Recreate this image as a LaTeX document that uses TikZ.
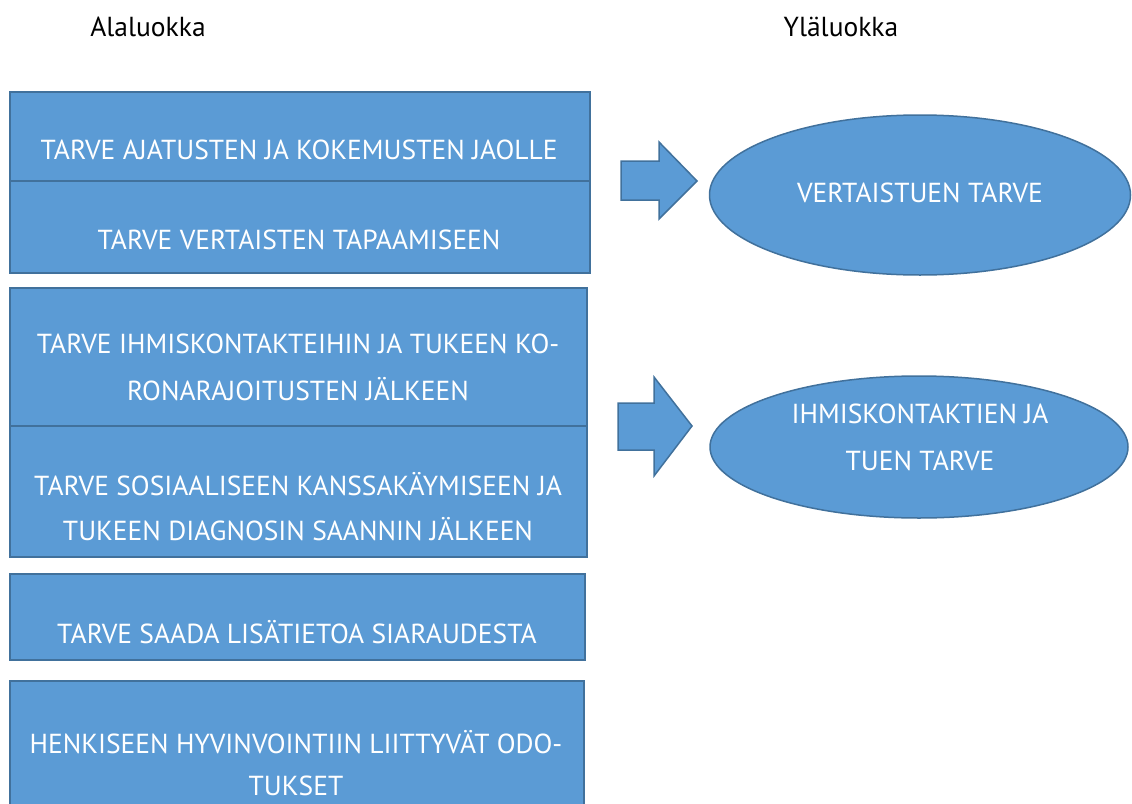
\documentclass[tikz,border=0pt]{standalone}
\usepackage{fontspec}
\setmainfont{PT Sans}
\usepackage{xcolor}
\usetikzlibrary{positioning}
\usetikzlibrary{shapes.geometric}
\definecolor{boxblue}{HTML}{5B9BD5}
\definecolor{edgeblue}{HTML}{41719C}

\begin{document}
\begin{tikzpicture}[x=1pt, y=-1pt, line width=1.5pt,
    cell/.style={rectangle, draw=edgeblue, fill=boxblue, anchor=north west},
    celltext/.style={text=white, font=\fontsize{27.5}{47}\selectfont, align=center},
    oval/.style={ellipse, draw=edgeblue, fill=boxblue, inner sep=0pt},
    blockarrow/.style={draw=edgeblue, fill=boxblue, line join=miter},
    title/.style={font=\fontsize{27.5}{30}\selectfont}]
    \useasboundingbox (0,0) rectangle (1132,803);

    % headings
    \node [title] (ala) at (148,27) {Alaluokka};
    \node [title] (yla) at (841,27) {Yläluokka};

    % left column
    \node [cell, minimum width=580, minimum height=89] (c1) at (9,91) {};
    \node [cell, minimum width=580, minimum height=92] (c2) at (9,180) {};
    \node [cell, minimum width=577, minimum height=138] (c3) at (9,287) {};
    \node [cell, minimum width=577, minimum height=131] (c4) at (9,425) {};
    \node [cell, minimum width=575, minimum height=86] (c5) at (9,573) {};
    \node [cell, minimum width=574, minimum height=140] (c6) at (9,680) {};

    \node [celltext] (t1) at (299,150) {TARVE AJATUSTEN JA KOKEMUSTEN JAOLLE};
    \node [celltext] (t2) at (299,240) {TARVE VERTAISTEN TAPAAMISEEN};
    \node [celltext] (t3) at (298,367) {TARVE IHMISKONTAKTEIHIN JA TUKEEN KO-\\RONARAJOITUSTEN JÄLKEEN};
    \node [celltext, font=\fontsize{27.5}{45}\selectfont] (t4) at (298,507)
        {TARVE SOSIAALISEEN KANSSAKÄYMISEEN JA\\TUKEEN DIAGNOSIN SAANNIN JÄLKEEN};
    \node [celltext] (t5) at (297,632) {TARVE SAADA LISÄTIETOA SIARAUDESTA};
    \node [celltext, font=\fontsize{27.5}{42}\selectfont] (t6) at (296,763)
        {HENKISEEN HYVINVOINTIIN LIITTYVÄT ODO-\\TUKSET};

    % right column
    \node [oval, minimum width=421, minimum height=160] (v1) at (920,195) {};
    \node [celltext] (vt1) at (920,193) {VERTAISTUEN TARVE};
    \node [oval, minimum width=418, minimum height=142] (v2) at (919,447) {};
    \node [celltext] (vt2) at (920,437) {IHMISKONTAKTIEN JA\\TUEN TARVE};

    % block arrows
    \draw [blockarrow] (621,161) -- (659,161) -- (659,142) -- (697,181)
        -- (659,219) -- (659,200) -- (621,200) -- cycle;
    \draw [blockarrow] (618,403) -- (654,403) -- (654,377) -- (692,426)
        -- (654,476) -- (654,450) -- (618,450) -- cycle;
\end{tikzpicture}
\end{document}
